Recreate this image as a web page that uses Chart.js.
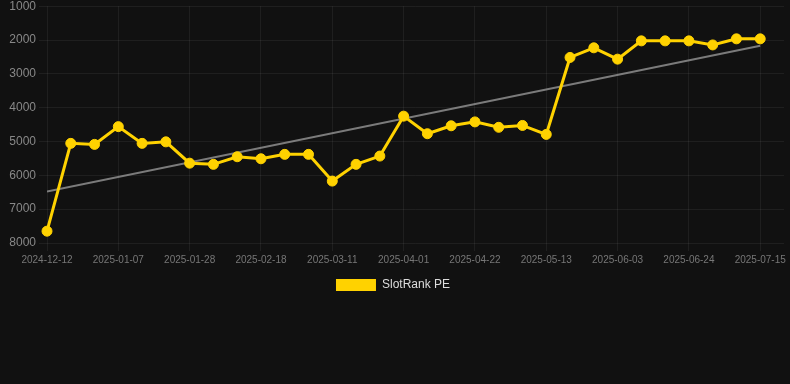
<!DOCTYPE html>
<html>
<head>
<meta charset="utf-8">
<script src="https://cdn.jsdelivr.net/npm/chart.js@4/dist/chart.umd.min.js"></script>
<style>
  html, body { margin: 0; padding: 0; background: #111111; overflow: hidden; }
  #wrap { width: 790px; height: 305px; position: relative; margin-top: -4px; }
</style>
</head>
<body>
<div id="wrap"><canvas id="c"></canvas></div>
<script>
const dates = [
  "2024-12-12","2024-12-24","2024-12-31","2025-01-07","2025-01-14","2025-01-21",
  "2025-01-28","2025-02-04","2025-02-11","2025-02-18","2025-02-25","2025-03-04",
  "2025-03-11","2025-03-18","2025-03-25","2025-04-01","2025-04-08","2025-04-15",
  "2025-04-22","2025-04-29","2025-05-06","2025-05-13","2025-05-20","2025-05-27",
  "2025-06-03","2025-06-10","2025-06-17","2025-06-24","2025-07-01","2025-07-08",
  "2025-07-15"
];
const rankPE = [
  7650, 5055, 5085, 4560, 5055, 5010,
  5640, 5675, 5450, 5510, 5380, 5380,
  6170, 5675, 5430, 4250, 4770, 4535,
  4420, 4580, 4525, 4790, 2515, 2230,
  2565, 2025, 2025, 2025, 2145, 1965,
  1965
];
const yTicks = [1000, 2000, 3000, 4000, 5000, 6000, 7000, 8000];
const seriesName = "SlotRank PE";

// linear regression trend from the series
const n = rankPE.length;
let sx = 0, sy = 0, sxy = 0, sxx = 0;
rankPE.forEach((v, i) => { sx += i; sy += v; sxy += i * v; sxx += i * i; });
const slope = (n * sxy - sx * sy) / (n * sxx - sx * sx);
const intercept = (sy - slope * sx) / n;
const trend = [{ x: 0, y: intercept }, { x: n - 1, y: intercept + slope * (n - 1) }];

const pts = rankPE.map((v, i) => ({ x: i, y: v }));

new Chart(document.getElementById('c'), {
  type: 'line',
  data: {
    datasets: [
      {
        label: seriesName,
        data: pts,
        borderColor: '#FFD200',
        backgroundColor: '#FFD200',
        borderWidth: 3,
        pointRadius: 5,
        pointBackgroundColor: '#FFD200',
        pointBorderColor: '#FFD200',
        pointBorderWidth: 1,
        tension: 0,
        clip: false,
        order: 1
      },
      {
        label: 'trend',
        data: trend,
        borderColor: 'rgba(150,150,150,0.8)',
        borderWidth: 2,
        pointRadius: 0,
        tension: 0,
        order: 2
      }
    ]
  },
  options: {
    responsive: true,
    maintainAspectRatio: false,
    animation: false,
    layout: { padding: { left: 0, right: 4 } },
    plugins: {
      legend: {
        position: 'bottom',
        labels: {
          color: '#dddddd',
          font: { size: 12 },
          boxWidth: 40,
          boxHeight: 12,
          filter: (item) => item.text === seriesName,
          generateLabels: (chart) => {
            const items = Chart.defaults.plugins.legend.labels.generateLabels(chart);
            items.forEach(it => { it.lineWidth = 0; });
            return items;
          }
        }
      },
      tooltip: { enabled: false }
    },
    scales: {
      x: {
        type: 'linear',
        min: 0,
        max: n,
        grid: { color: 'rgba(255,255,255,0.06)' },
        border: { display: false },
        ticks: {
          stepSize: 3,
          includeBounds: false,
          autoSkip: false,
          maxRotation: 0,
          color: '#777777',
          font: { size: 10 },
          callback: (v) => (dates[v] !== undefined ? dates[v] : '')
        }
      },
      y: {
        reverse: true,
        min: yTicks[0],
        max: yTicks[yTicks.length - 1],
        afterFit: (scale) => { scale.width = 47; },
        grid: { color: 'rgba(255,255,255,0.06)' },
        border: { display: false },
        ticks: {
          stepSize: 1000,
          color: '#888888',
          font: { size: 12 },
          callback: (v) => String(v)
        }
      }
    }
  }
});
</script>
</body>
</html>
